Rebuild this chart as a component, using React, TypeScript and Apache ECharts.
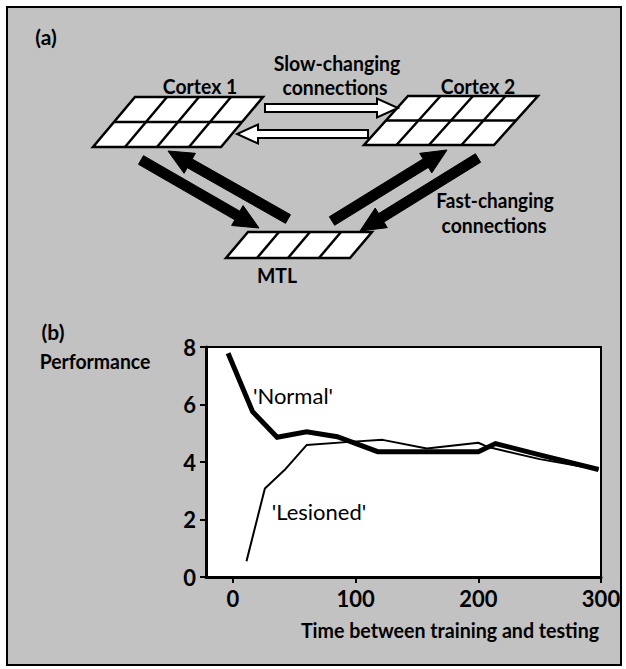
import React, { useEffect, useRef } from "react";
import * as echarts from "echarts";

// Panel (b) data: performance vs time between training and testing
const normalX = [-4, 16, 36, 60, 85, 118, 160, 200, 214, 250, 298];
const normalY = [7.78, 5.75, 4.86, 5.05, 4.88, 4.36, 4.36, 4.36, 4.64, 4.25, 3.74];
const lesionedX = [11, 26, 42, 60, 95, 122, 158, 200, 208, 250, 298];
const lesionedY = [0.55, 3.08, 3.72, 4.59, 4.7, 4.77, 4.47, 4.67, 4.52, 4.1, 3.74];
const xTickValues = [0, 100, 200, 300];
const yTickValues = [0, 2, 4, 6, 8];
const seriesNames = ["'Normal'", "'Lesioned'"];

const FONT = "Lato, 'Open Sans', sans-serif";

type Pt = [number, number];

function parallelogram(x0: number, y0: number, w: number, h: number, skew: number, rows: number, cols: number) {
  const els: any[] = [];
  els.push({
    type: "polygon",
    shape: { points: [[x0, y0], [x0 + w, y0], [x0 + w - skew, y0 + h], [x0 - skew, y0 + h]] },
    style: { fill: "#fff", stroke: "#000", lineWidth: 2.5, lineJoin: "miter" },
  });
  for (let r = 1; r < rows; r++) {
    const y = y0 + (h * r) / rows;
    const off = (skew * r) / rows;
    els.push({
      type: "line",
      shape: { x1: x0 - off, y1: y, x2: x0 + w - off, y2: y },
      style: { stroke: "#000", lineWidth: 2.5 },
    });
  }
  for (let c = 1; c < cols; c++) {
    const x = x0 + (w * c) / cols;
    els.push({
      type: "line",
      shape: { x1: x, y1: y0, x2: x - skew, y2: y0 + h },
      style: { stroke: "#000", lineWidth: 2.5 },
    });
  }
  return els;
}

function arrowPts(x1: number, y1: number, x2: number, y2: number, sw: number, hl: number, hw: number): Pt[] {
  const dx = x2 - x1;
  const dy = y2 - y1;
  const L = Math.hypot(dx, dy);
  const ux = dx / L;
  const uy = dy / L;
  const px = -uy;
  const py = ux;
  const bx = x2 - ux * hl;
  const by = y2 - uy * hl;
  return [
    [x1 + (px * sw) / 2, y1 + (py * sw) / 2],
    [bx + (px * sw) / 2, by + (py * sw) / 2],
    [bx + (px * hw) / 2, by + (py * hw) / 2],
    [x2, y2],
    [bx - (px * hw) / 2, by - (py * hw) / 2],
    [bx - (px * sw) / 2, by - (py * sw) / 2],
    [x1 - (px * sw) / 2, y1 - (py * sw) / 2],
  ];
}

function label(text: string, x: number, y: number, size: number, weight: string, sx = 1) {
  return {
    type: "text",
    x,
    y,
    scaleX: sx,
    style: {
      text,
      fill: "#000",
      font: `${weight} ${size}px ${FONT}`,
      align: "center",
      verticalAlign: "middle",
    },
  };
}

export default function App() {
  const ref = useRef<HTMLDivElement>(null);

  useEffect(() => {
    document.body.style.margin = "0";
    const chart = echarts.init(ref.current!, null, { renderer: "svg" });

    const graphics: any[] = [];
    // Panel (a) diagram
    graphics.push(...parallelogram(135, 97, 128, 50, 42, 2, 4));
    graphics.push(...parallelogram(408, 96, 130, 49, 44, 2, 4));
    graphics.push(...parallelogram(248, 232, 124, 26, 22, 1, 4));

    // hollow slow-changing arrows
    graphics.push({
      type: "polygon",
      shape: { points: arrowPts(265, 108, 398, 108, 8, 21, 19) },
      style: { fill: "#fff", stroke: "#000", lineWidth: 2 },
    });
    graphics.push({
      type: "polygon",
      shape: { points: arrowPts(368, 134, 237, 134, 8, 21, 19) },
      style: { fill: "#fff", stroke: "#000", lineWidth: 2 },
    });

    // black fast-changing arrows
    const black = { fill: "#000", stroke: "#000", lineWidth: 1 };
    graphics.push({ type: "polygon", shape: { points: arrowPts(141, 160, 259, 228, 10, 25, 23) }, style: black });
    graphics.push({ type: "polygon", shape: { points: arrowPts(288, 219, 168, 151, 10, 25, 23) }, style: black });
    graphics.push({ type: "polygon", shape: { points: arrowPts(332, 221, 447, 150, 10, 25, 23) }, style: black });
    graphics.push({ type: "polygon", shape: { points: arrowPts(478, 158, 360, 231, 10, 25, 23) }, style: black });

    // panel (a) texts
    graphics.push(label("(a)", 46, 36, 21, "bold"));
    graphics.push(label("Slow-changing", 337, 63, 20, "bold", 0.97));
    graphics.push(label("connections", 335, 87, 20, "bold", 0.97));
    graphics.push(label("Cortex 1", 200, 86, 20, "bold", 0.97));
    graphics.push(label("Cortex 2", 478, 86, 20, "bold", 0.97));
    graphics.push(label("Fast-changing", 495, 200, 20, "bold", 0.95));
    graphics.push(label("connections", 494, 225, 20, "bold", 0.97));
    graphics.push(label("MTL", 277, 275, 20, "bold", 0.97));

    // panel (b) texts
    graphics.push(label("(b)", 53, 331, 21, "bold"));
    graphics.push(label("Performance", 95, 361, 20, "bold", 0.97));
    graphics.push(label("Time between training and testing", 450, 630, 20, "bold", 0.98));
    graphics.push(label(seriesNames[0], 293, 395, 22, "normal"));
    graphics.push(label(seriesNames[1], 319, 511, 22, "normal"));

    chart.setOption({
      animation: false,
      backgroundColor: "transparent",
      graphic: { elements: graphics },
      grid: {
        left: 206,
        top: 347,
        width: 395,
        height: 230,
        show: true,
        backgroundColor: "#fff",
        borderColor: "#000",
        borderWidth: 2,
      },
      xAxis: {
        type: "value",
        min: -22,
        max: 300,
        axisLine: { show: true, onZero: false, lineStyle: { color: "#000", width: 3 } },
        axisTick: { show: true, customValues: xTickValues, length: 6, lineStyle: { color: "#000", width: 2 } },
        axisLabel: {
          customValues: xTickValues,
          color: "#000",
          fontFamily: FONT,
          fontSize: 22,
          fontWeight: "bold",
          margin: 10,
        },
        splitLine: { show: false },
      },
      yAxis: {
        type: "value",
        min: 0,
        max: 8,
        interval: 2,
        axisLine: { show: true, onZero: false, lineStyle: { color: "#000", width: 3 } },
        axisTick: { show: true, length: 6, lineStyle: { color: "#000", width: 2 } },
        axisLabel: {
          color: "#000",
          fontFamily: FONT,
          fontSize: 22,
          fontWeight: "bold",
          margin: 10,
          customValues: yTickValues,
        },
        splitLine: { show: false },
      },
      series: [
        {
          name: seriesNames[0],
          type: "line",
          data: normalX.map((x, i) => [x, normalY[i]]),
          showSymbol: false,
          lineStyle: { color: "#000", width: 5, join: "miter" },
          z: 3,
        },
        {
          name: seriesNames[1],
          type: "line",
          data: lesionedX.map((x, i) => [x, lesionedY[i]]),
          showSymbol: false,
          lineStyle: { color: "#000", width: 2 },
          z: 4,
        },
      ],
    });
    return () => chart.dispose();
  }, []);

  return (
    <div style={{ position: "absolute", left: 0, top: 0, width: 626, height: 669, background: "#fff" }}>
      <div
        style={{
          position: "absolute",
          left: 6,
          top: 6,
          width: 616,
          height: 660,
          boxSizing: "border-box",
          border: "2px solid #000",
          background: "#c2c2c2",
        }}
      />
      <div ref={ref} style={{ position: "absolute", left: 0, top: 0, width: 626, height: 669 }} />
    </div>
  );
}
